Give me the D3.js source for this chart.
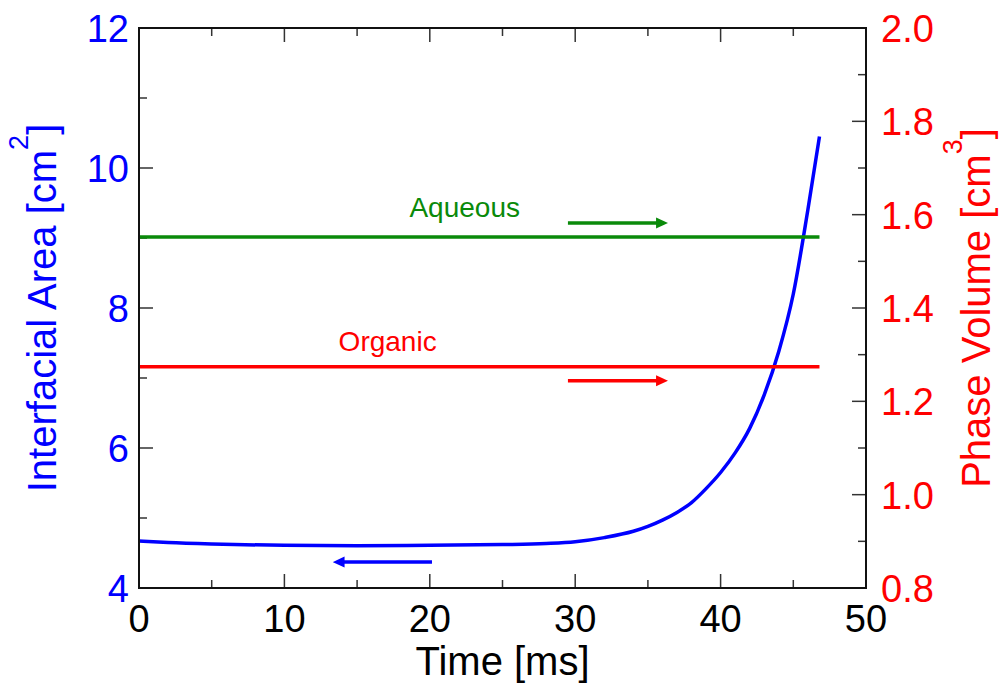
<!DOCTYPE html>
<html>
<head>
<meta charset="utf-8">
<script src="https://cdn.jsdelivr.net/npm/d3@7"></script>
<style>
  body { margin: 0; background: #fff; }
  text { font-family: "Liberation Sans", Arial, Helvetica, sans-serif; }
</style>
</head>
<body>
<div id="chart"></div>
<script>
/* DATA */
// interfacial area over time
const timeMs = [0, 2, 5, 10, 15, 20, 25, 28, 30, 32, 34, 35, 36, 37, 38, 39, 40, 41, 42, 43, 44, 45, 46, 46.8];
const areaCm2 = [4.67, 4.65, 4.63, 4.61, 4.605, 4.61, 4.62, 4.635, 4.66, 4.72, 4.81, 4.88, 4.97, 5.08, 5.22, 5.42, 5.65, 5.93, 6.28, 6.76, 7.38, 8.2, 9.4, 10.45];

// phase volumes (constant, right axis)
const phaseNames = ["Aqueous", "Organic"];
const phaseVolumes = [1.552, 1.274];
const phaseEnd = 46.8;

const xTicks = [0, 10, 20, 30, 40, 50];
const leftTicks = [4, 6, 8, 10, 12];
const rightTicks = [0.8, 1.0, 1.2, 1.4, 1.6, 1.8, 2.0];

/* LAYOUT */
const width = 1000,
  height = 683,
  margin = { top: 28, bottom: 95, left: 139, right: 134 };

const colors = { area: "#0000ff", Aqueous: "#0a8a0a", Organic: "#ff0000" };

const svg = d3.select("#chart").append("svg")
  .attr("width", width)
  .attr("height", height);

const x = d3.scaleLinear().domain([0, 50]).range([margin.left, width - margin.right]);
const yL = d3.scaleLinear().domain([4, 12]).range([height - margin.bottom, margin.top]);
const yR = d3.scaleLinear().domain([0.8, 2.0]).range([height - margin.bottom, margin.top]);

// arrow head
const defs = svg.append("defs");
Object.entries(colors).forEach(([k, c]) => {
  defs.append("marker")
    .attr("id", "head-" + k)
    .attr("markerUnits", "userSpaceOnUse")
    .attr("viewBox", "0 0 12 12")
    .attr("refX", 2).attr("refY", 6)
    .attr("markerWidth", 12).attr("markerHeight", 12)
    .attr("orient", "auto")
    .append("path")
    .attr("d", "M0,0.5 L12,6 L0,11.5 Z")
    .attr("fill", c);
});

/* TICKS (inward, major + minor) */
const tickColor = "#333";
function ticksOn(g, values, pos, dir, len) {
  g.selectAll(null).data(values).join("line")
    .attr("stroke", tickColor).attr("stroke-width", 1.5)
    .each(function (d) {
      const s = d3.select(this), p = pos(d);
      if (dir === "up" || dir === "down") {
        const y0 = dir === "up" ? height - margin.bottom : margin.top;
        s.attr("x1", p).attr("x2", p).attr("y1", y0).attr("y2", dir === "up" ? y0 - len : y0 + len);
      } else {
        const x0 = dir === "right" ? margin.left : width - margin.right;
        s.attr("y1", p).attr("y2", p).attr("x1", x0).attr("x2", dir === "right" ? x0 + len : x0 - len);
      }
    });
}
const tg = svg.append("g");
ticksOn(tg, d3.range(0, 51, 10), x, "up", 14);
ticksOn(tg, d3.range(5, 50, 10), x, "up", 8);
ticksOn(tg, d3.range(0, 51, 10), x, "down", 14);
ticksOn(tg, d3.range(5, 50, 10), x, "down", 8);
ticksOn(tg, d3.range(4, 12.1, 2), yL, "right", 14);
ticksOn(tg, d3.range(5, 12, 2), yL, "right", 8);
ticksOn(tg, rightTicks, yR, "left", 14);
ticksOn(tg, d3.range(0.9, 2.0, 0.2), yR, "left", 8);

/* LINES */
const areaData = timeMs.map((t, i) => ({ t, a: areaCm2[i] }));
svg.append("path")
  .datum(areaData)
  .attr("fill", "none")
  .attr("stroke", colors.area)
  .attr("stroke-width", 3.5)
  .attr("d", d3.line().x(d => x(d.t)).y(d => yL(d.a)).curve(d3.curveMonotoneX));

phaseNames.forEach((name, i) => {
  svg.append("line")
    .attr("x1", x(0)).attr("x2", x(phaseEnd))
    .attr("y1", yR(phaseVolumes[i])).attr("y2", yR(phaseVolumes[i]))
    .attr("stroke", colors[name]).attr("stroke-width", 3.5);
});

/* ARROWS + LABELS */
const arrows = [
  { key: "Aqueous", x0: 29.5, x1: 35.7, v: 1.582, scale: yR },
  { key: "Organic", x0: 29.5, x1: 35.7, v: 1.244, scale: yR },
  { key: "area", x0: 20.15, x1: 14.0, v: 4.37, scale: yL }
];
svg.selectAll(".arrow").data(arrows).join("line")
  .attr("class", "arrow")
  .attr("x1", d => x(d.x0)).attr("x2", d => x(d.x1))
  .attr("y1", d => d.scale(d.v)).attr("y2", d => d.scale(d.v))
  .attr("stroke", d => colors[d.key]).attr("stroke-width", 3.5)
  .attr("marker-end", d => `url(#head-${d.key})`);

const phaseLabels = [
  { key: "Aqueous", t: 22.4, v: 1.6 },
  { key: "Organic", t: 17.1, v: 1.313 }
];
svg.selectAll(".plabel").data(phaseLabels).join("text")
  .attr("class", "plabel")
  .attr("x", d => x(d.t)).attr("y", d => yR(d.v) + 2)
  .attr("text-anchor", "middle")
  .attr("font-size", 28)
  .attr("fill", d => colors[d.key])
  .text(d => d.key);

/* FRAME */
svg.append("rect")
  .attr("x", margin.left).attr("y", margin.top)
  .attr("width", width - margin.left - margin.right)
  .attr("height", height - margin.top - margin.bottom)
  .attr("fill", "none").attr("stroke", "#111").attr("stroke-width", 2);

/* TICK LABELS */
svg.selectAll(".xl").data(xTicks).join("text")
  .attr("x", d => x(d)).attr("y", height - margin.bottom + 44)
  .attr("text-anchor", "middle").attr("font-size", 38).attr("fill", "#000")
  .text(d => d);

svg.selectAll(".yl").data(leftTicks).join("text")
  .attr("x", margin.left - 10).attr("y", d => yL(d) + 14)
  .attr("text-anchor", "end").attr("font-size", 38).attr("fill", colors.area)
  .text(d => d);

svg.selectAll(".yr").data(rightTicks).join("text")
  .attr("x", width - margin.right + 15).attr("y", d => yR(d) + 14)
  .attr("text-anchor", "start").attr("font-size", 38).attr("fill", colors.Organic)
  .text(d => d3.format(".1f")(d));

/* AXIS TITLES */
svg.append("text")
  .attr("x", (margin.left + width - margin.right) / 2).attr("y", 675)
  .attr("text-anchor", "middle").attr("font-size", 40).attr("fill", "#000")
  .text("Time [ms]");

function sideTitle(xPos, main, sup, color) {
  const t = svg.append("text")
    .attr("transform", `translate(${xPos},${(margin.top + height - margin.bottom) / 2}) rotate(-90)`)
    .attr("text-anchor", "middle").attr("font-size", 40).attr("fill", color);
  t.append("tspan").text(main);
  t.append("tspan").attr("dy", -28).attr("font-size", 27).text(sup);
  t.append("tspan").attr("dy", 28).text("]");
}
sideTitle(56, "Interfacial Area [cm", "2", colors.area);
sideTitle(990, "Phase Volume [cm", "3", colors.Organic);
</script>
</body>
</html>
